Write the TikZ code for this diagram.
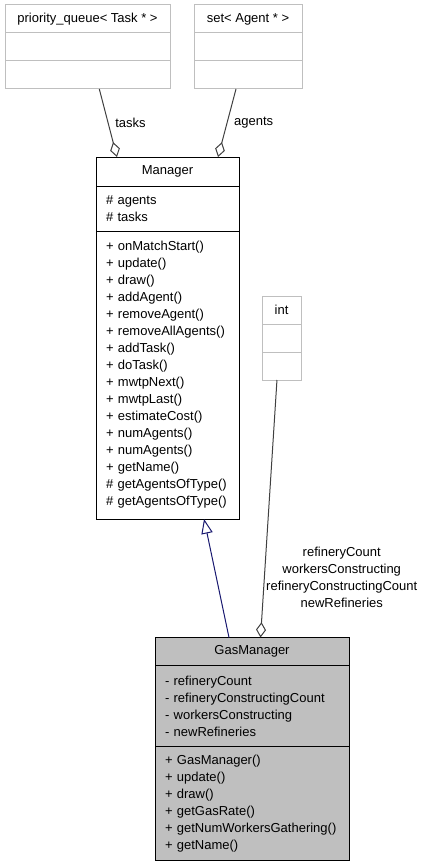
\documentclass[tikz,border=0pt]{standalone}
\usepackage{fontspec}
\setmainfont{Liberation Sans}
\usetikzlibrary{positioning, arrows.meta}

\definecolor{extgray}{HTML}{BFBFBF}
\definecolor{edgegray}{HTML}{404040}
\definecolor{inhblue}{HTML}{191970}

\begin{document}
\begin{tikzpicture}[
    x=0.75pt, y=-0.75pt, line width=0.75pt,
    every node/.style={font=\fontsize{9.75}{12.75}\selectfont},
    cell/.style={draw, rectangle, inner sep=0pt, outer sep=0pt},
    ext/.style={cell, draw=extgray, minimum height=21pt},
    title/.style={cell, align=center},
    members/.style={cell, align=left, inner xsep=7.5pt},
    aggr/.style={draw=edgegray, -{Diamond[fill=white, length=11.5pt, width=7.5pt]}},
    inherit/.style={draw=inhblue, -{Triangle[fill=white, length=11pt, width=8.5pt]}},
    lbl/.style={inner sep=1pt}
]
\useasboundingbox (0,0) rectangle (425,867);

% 1. EXTERNAL CLASSES
\node[ext, minimum width=123.75pt] (pq) at (87.5,19) {priority\_queue< Task * >};
\node[ext, minimum width=123.75pt, below=0pt of pq] (pqAttr) {};
\node[ext, minimum width=123.75pt, below=0pt of pqAttr] (pqOps) {};

\node[ext, minimum width=81pt] (set) at (248,19) {set< Agent * >};
\node[ext, minimum width=81pt, below=0pt of set] (setAttr) {};
\node[ext, minimum width=81pt, below=0pt of setAttr] (setOps) {};

\node[ext, minimum width=29.25pt] (int) at (281.5,310) {int};
\node[ext, minimum width=29.25pt, below=0pt of int] (intAttr) {};
\node[ext, minimum width=29.25pt, below=0pt of intAttr] (intOps) {};

% 2. MANAGER
\node[title, minimum width=107.25pt, minimum height=21.75pt] (mgr) at (167.5,171.5) {Manager};
\node[members, text width=92.25pt, minimum height=33.75pt, below=0pt of mgr] (mgrAttr)
    {\# agents\\\# tasks};
\node[members, text width=92.25pt, minimum height=216pt, below=0pt of mgrAttr] (mgrOps)
    {+ onMatchStart()\\+ update()\\+ draw()\\+ addAgent()\\+ removeAgent()\\
     + removeAllAgents()\\+ addTask()\\+ doTask()\\+ mwtpNext()\\+ mwtpLast()\\
     + estimateCost()\\+ numAgents()\\+ numAgents()\\+ getName()\\
     \# getAgentsOfType()\\\# getAgentsOfType()};

% 3. GASMANAGER
\node[title, fill=extgray, minimum width=145.5pt, minimum height=21pt] (gas) at (252,651.5) {GasManager};
\node[members, fill=extgray, text width=130.5pt, minimum height=60.75pt, below=0pt of gas] (gasAttr)
    {- refineryCount\\- refineryConstructingCount\\- workersConstructing\\- newRefineries};
\node[members, fill=extgray, text width=130.5pt, minimum height=85.5pt, below=0pt of gasAttr] (gasOps)
    {+ GasManager()\\+ update()\\+ draw()\\+ getGasRate()\\+ getNumWorkersGathering()\\+ getName()};

% 4. EDGES
\draw[aggr] ([xshift=8.85pt]pqOps.south) -- node[lbl, right=4pt] {tasks} ([xshift=-37.9pt]mgr.north);
\draw[aggr] ([xshift=-9pt]setOps.south) -- node[lbl, right=4pt] {agents} ([xshift=37.9pt]mgr.north);
\draw[aggr] ([xshift=-3.4pt]intOps.south) -- node[lbl, pos=0.765, right=0pt, align=center]
    {refineryCount\\workersConstructing\\refineryConstructingCount\\newRefineries} ([xshift=6.4pt]gas.north);
\draw[inherit] ([xshift=-17.25pt]gas.north) -- ([xshift=27.4pt]mgrOps.south);
\end{tikzpicture}
\end{document}
